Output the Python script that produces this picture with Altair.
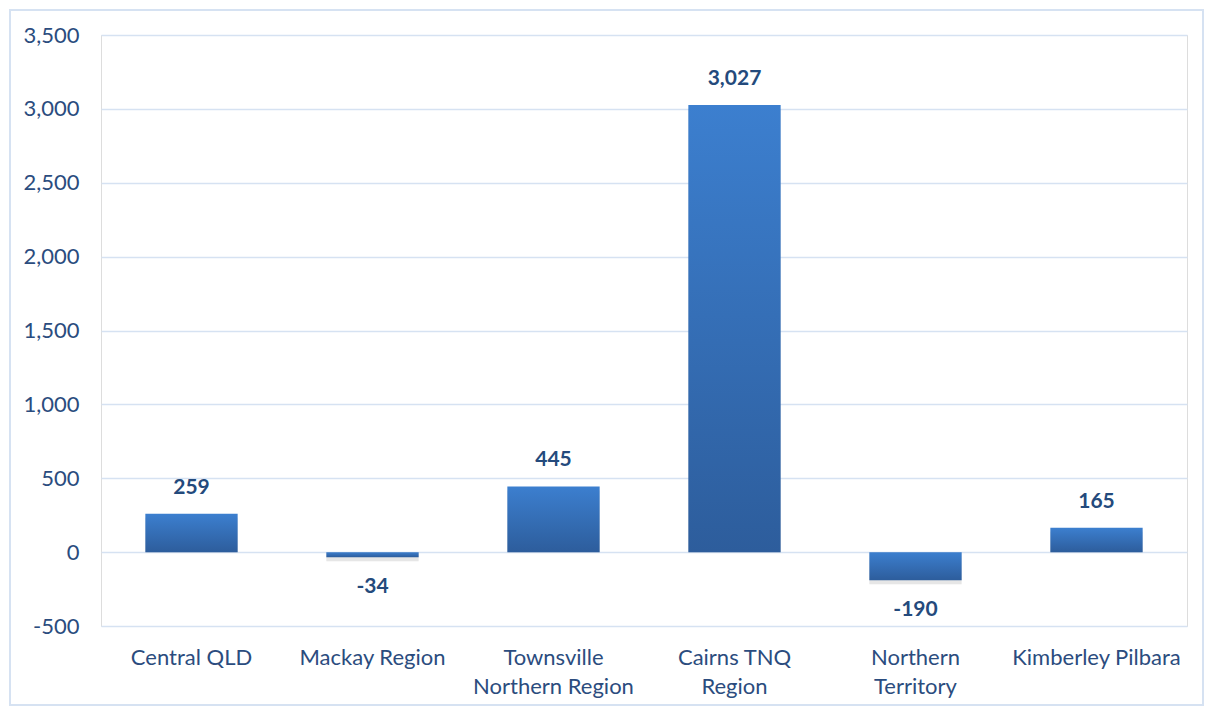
import altair as alt
import pandas as pd

categories = ["Central QLD", "Mackay Region", "Townsville\nNorthern Region",
              "Cairns TNQ\nRegion", "Northern\nTerritory", "Kimberley Pilbara"]
values = [259, -34, 445, 3027, -190, 165]
labels = ["259", "-34", "445", "3,027", "-190", "165"]
y_ticks = [-500, 0, 500, 1000, 1500, 2000, 2500, 3000, 3500]

df = pd.DataFrame({"region": categories, "value": values, "label": labels})

FONT = "Lato"
TXT = "#2b4c7e"
W, H = 1086, 591

x_enc = alt.X("region:N", sort=categories, title=None,
              scale=alt.Scale(paddingInner=0.49, paddingOuter=0.245),
              axis=alt.Axis(labelAngle=0, labelExpr="split(datum.label, '\\n')",
                            labelFontSize=22, labelFont=FONT, labelColor=TXT,
                            labelLineHeight=29, labelPadding=21, ticks=False,
                            domain=False, grid=False, labelBaseline="top"))
y_scale = alt.Scale(domain=[-500, 3500], nice=False)
y_enc = alt.Y("value:Q", scale=y_scale, title=None,
              axis=alt.Axis(values=y_ticks, format=",.0f",
                            labelExpr="replace(datum.label, '\u2212', '-')",
                            labelFontSize=22, labelFont=FONT,
                            labelColor=TXT, labelPadding=22, ticks=False, domain=False,
                            grid=True, gridColor="#d6e2f2", gridWidth=1.5))

base = alt.Chart(df)

border = base.mark_rect(fill="transparent", stroke="#d6e2f2", strokeWidth=2).encode(
    x=alt.value(-91), x2=alt.value(W + 16), y=alt.value(-25), y2=alt.value(H + 79)
).transform_filter("datum.region == 'Central QLD'")

shadow = base.mark_bar(color="#9a9a9a", opacity=0.25, yOffset=4).encode(
    x=x_enc, y=y_enc, y2=alt.datum(0))

bars = base.mark_bar(color=alt.LinearGradient(
    gradient="linear", x1=0, y1=0, x2=0, y2=1,
    stops=[alt.GradientStop(color="#3c7fcf", offset=0),
           alt.GradientStop(color="#2d5d9c", offset=1)])).encode(
    x=x_enc, y=y_enc, y2=alt.datum(0))

pos_text = base.transform_filter("datum.value >= 0").mark_text(
    font=FONT, fontSize=21, fontWeight="bold", color="#244a7c", dy=-26, baseline="middle"
).encode(x=alt.X("region:N", sort=categories), y=alt.Y("value:Q", scale=y_scale), text="label:N")

neg_text = base.transform_filter("datum.value < 0").mark_text(
    font=FONT, fontSize=21, fontWeight="bold", color="#244a7c", dy=30, baseline="middle"
).encode(x=alt.X("region:N", sort=categories), y=alt.Y("value:Q", scale=y_scale), text="label:N")

chart = alt.layer(border, shadow, bars, pos_text, neg_text).properties(
    width=W, height=H,
    autosize=alt.AutoSizeParams(type="none"),
    padding={"left": 93, "top": 27, "right": 18, "bottom": 81},
).configure_view(strokeWidth=0, stroke="transparent").configure(background="white")

chart.save("out.html", embed_options={"renderer": "svg", "actions": False})
